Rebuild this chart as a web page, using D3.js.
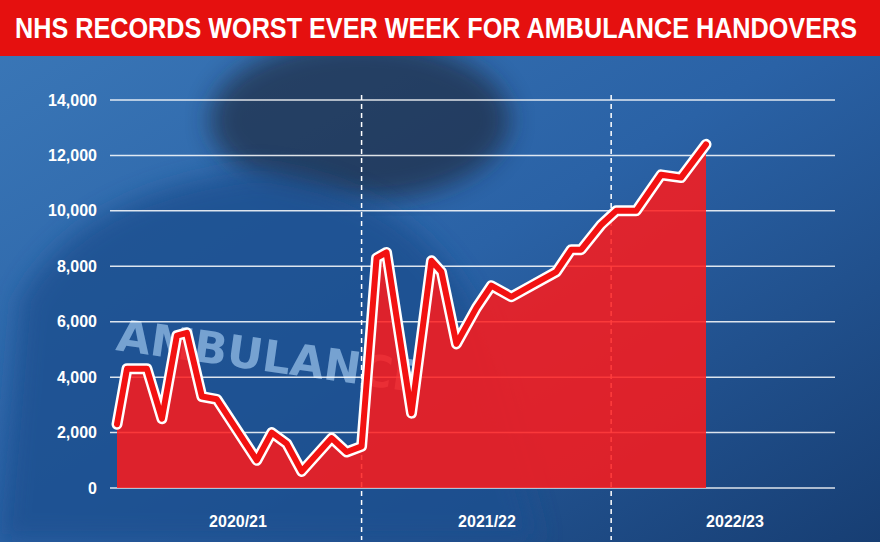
<!DOCTYPE html>
<html><head><meta charset="utf-8">
<script src="https://cdn.jsdelivr.net/npm/d3@7"></script>
<style>body{margin:0;background:#1d4f8c}svg{display:block}</style>
</head><body>
<svg id="c" width="880" height="542"></svg>
<script>
var weeks = [0,2,6,9,12,14,17,20,28,31,34,37,43,46,49,52,54,59,63,65,68,72,75,79,83,88,91,93,97,100,104,109,113,118];
var handovers = [2300,4300,4300,2500,5500,5600,3300,3200,1000,2000,1600,600,1800,1300,1500,8300,8500,2700,8200,7800,5200,6500,7300,6900,7300,7800,8600,8600,9500,10000,10000,11300,11200,12400];
var yTicks = [0,2000,4000,6000,8000,10000,12000,14000];
var seasons = ["2020/21","2021/22","2022/23"];
var seasonStart = [0,49,99];

var svg = d3.select("#c");
var defs = svg.append("defs");
var g1 = defs.append("linearGradient").attr("id","bg").attr("x1",0).attr("x2",1).attr("y1",0).attr("y2",1);
g1.append("stop").attr("offset","0%").attr("stop-color","#3b78b8");
g1.append("stop").attr("offset","50%").attr("stop-color","#2a62a6");
g1.append("stop").attr("offset","100%").attr("stop-color","#173e73");
svg.append("rect").attr("width",880).attr("height",542).attr("fill","url(#bg)");
defs.append("filter").attr("id","blur").append("feGaussianBlur").attr("stdDeviation",12);
// rough background figure shapes
svg.append("ellipse").attr("cx",360).attr("cy",120).attr("rx",150).attr("ry",80).attr("fill","#1c2430").attr("opacity",0.6).attr("filter","url(#blur)");
svg.append("path").attr("d","M0,542 L20,300 Q80,190 260,170 Q420,190 480,320 L540,542 Z").attr("fill","#1f4f8f").attr("opacity",0.8).attr("filter","url(#blur)");
svg.append("text").attr("x",115).attr("y",350).attr("font-family","DejaVu Sans").attr("font-weight","bold")
  .attr("font-size",44).attr("fill","#9cc4ec").attr("opacity",0.7).attr("transform","rotate(8,115,350)").text("AMBULANCE");

var x = d3.scaleLinear().domain([0,118]).range([117,706]);
var y = d3.scaleLinear().domain([0,14000]).range([488,100]);

// grid
svg.append("g").selectAll("line").data(yTicks).join("line")
  .attr("x1",110).attr("x2",835).attr("y1",d=>y(d)).attr("y2",d=>y(d))
  .attr("stroke","#fff").attr("stroke-width",1.5).attr("opacity",0.85);
svg.append("g").selectAll("line").data(seasonStart.slice(1)).join("line")
  .attr("x1",d=>x(d)).attr("x2",d=>x(d)).attr("y1",95).attr("y2",540)
  .attr("stroke","#fff").attr("stroke-dasharray","5,4").attr("stroke-width",1.5);

var yAxis = d3.axisLeft(y).tickValues(yTicks).tickFormat(d3.format(",")).tickSize(0);
svg.append("g").attr("transform","translate(100,0)").call(yAxis)
  .call(g=>g.select(".domain").remove())
  .selectAll("text").attr("font-family","Liberation Sans").attr("font-weight","bold").attr("font-size",16).attr("fill","#fff");

var pts = weeks.map((w,i)=>[w,handovers[i]]);
svg.append("path").datum(pts).attr("fill","#ff1a1a").attr("opacity",0.85)
  .attr("d",d3.area().x(d=>x(d[0])).y0(y(0)).y1(d=>y(d[1])));
var line = d3.line().x(d=>x(d[0])).y(d=>y(d[1]));
svg.append("path").datum(pts).attr("fill","none").attr("stroke","#fff").attr("stroke-width",11).attr("stroke-linejoin","round").attr("stroke-linecap","round").attr("d",line);
svg.append("path").datum(pts).attr("fill","none").attr("stroke","#f21212").attr("stroke-width",6).attr("stroke-linejoin","round").attr("stroke-linecap","round").attr("d",line);

var labelX = [238,487,735];
svg.append("g").selectAll("text").data(seasons).join("text")
  .attr("x",(d,i)=>labelX[i]).attr("y",527).attr("text-anchor","middle")
  .attr("font-family","Liberation Sans").attr("font-weight","bold").attr("font-size",16).attr("fill","#fff").text(d=>d);

// title banner
svg.append("rect").attr("width",880).attr("height",56).attr("fill","#e5100f");
svg.append("text").attr("x",436).attr("y",38).attr("text-anchor","middle")
  .attr("font-family","Liberation Sans Narrow, Liberation Sans").attr("font-weight","bold").attr("font-size",29)
  .attr("fill","#fff").attr("textLength",842).attr("lengthAdjust","spacingAndGlyphs")
  .text("NHS RECORDS WORST EVER WEEK FOR AMBULANCE HANDOVERS");
</script>
</body></html>
